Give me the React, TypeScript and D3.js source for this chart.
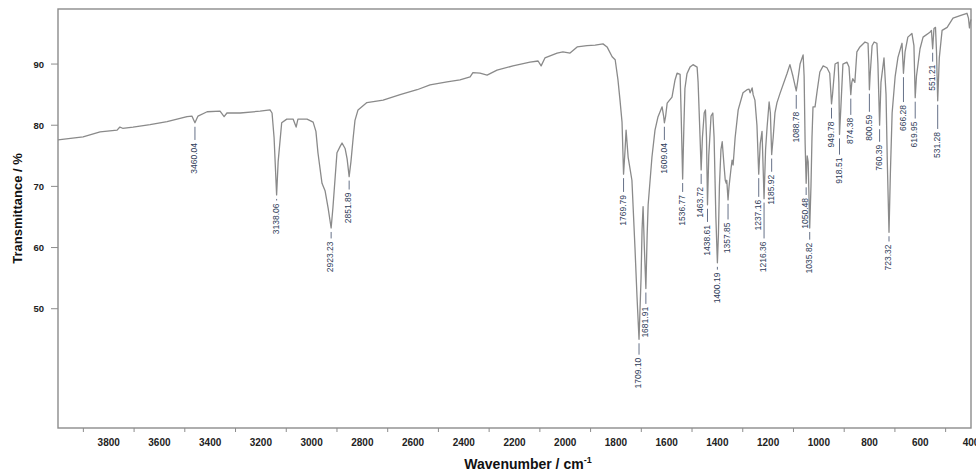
import React from "react";
import * as d3 from "d3";

// Spectrum: wavenumber (cm-1) and transmittance (%)
const wavenumbers: number[] = [
  4000, 3901, 3834, 3767, 3756, 3745, 3704, 3637, 3570, 3491, 3472, 3460, 3448, 3412, 3361, 3345, 3334, 3282, 3203, 3164,
  3156, 3148, 3138, 3132, 3118, 3098, 3073, 3061, 3054, 3018, 2994, 2983, 2975, 2959, 2947, 2935, 2923, 2916, 2908, 2900,
  2888, 2880, 2868, 2860, 2852, 2845, 2836, 2829, 2817, 2782, 2718, 2651, 2584, 2533, 2466, 2415, 2375, 2364, 2336, 2308,
  2269, 2206, 2139, 2107, 2095, 2080, 2032, 2009, 1981, 1953, 1914, 1882, 1851, 1835, 1815, 1803, 1792, 1784, 1776, 1770,
  1764, 1760, 1752, 1737, 1725, 1717, 1709, 1701, 1697, 1693, 1688, 1682, 1677, 1673, 1658, 1646, 1634, 1618, 1612, 1609,
  1604, 1598, 1579, 1567, 1559, 1547, 1543, 1537, 1532, 1528, 1520, 1508, 1496, 1480, 1476, 1470, 1464, 1459, 1452, 1447,
  1443, 1439, 1434, 1425, 1418, 1413, 1406, 1400, 1396, 1392, 1386, 1381, 1373, 1369, 1365, 1363, 1358, 1354, 1346, 1342,
  1338, 1330, 1318, 1299, 1283, 1275, 1271, 1263, 1259, 1252, 1244, 1237, 1231, 1224, 1216, 1210, 1204, 1196, 1191, 1186,
  1180, 1173, 1165, 1153, 1125, 1114, 1102, 1094, 1089, 1084, 1074, 1062, 1058, 1054, 1050, 1046, 1042, 1036, 1031, 1027,
  1023, 1015, 1007, 996, 983, 968, 957, 950, 946, 936, 924, 921, 918.5, 913, 905, 889, 881, 877, 874, 870,
  866, 858, 850, 838, 818, 806, 803, 800.6, 798, 790, 782, 771, 767, 760.4, 755, 743, 735, 730, 723.3, 718,
  711, 699, 688, 672, 666.3, 660, 649, 633, 625, 620, 615, 601, 589, 562, 556, 551.2, 546, 540, 536, 531.3,
  525, 514, 494, 471, 443, 416, 410, 406, 402, 400,
];
const transmittance: number[] = [
  77.6, 78.1, 78.9, 79.2, 79.7, 79.5, 79.7, 80.1, 80.6, 81.4, 81.5, 80.4, 81.5, 82.2, 82.3, 81.4, 82.0, 82.0, 82.3, 82.5,
  82.0, 78, 68.6, 74, 80.4, 81.0, 81.0, 79.7, 81.0, 81.0, 80.5, 79, 75.5, 70.5, 69.3, 66.5, 63.2, 66.5, 71, 75.5,
  76.5, 77.1, 76.2, 74.5, 71.6, 74, 78, 80.8, 82.5, 83.7, 84.1, 85.0, 85.8, 86.6, 87.1, 87.4, 87.9, 88.6, 88.5, 88.2,
  89.0, 89.7, 90.3, 90.5, 89.7, 91.0, 91.8, 92.0, 91.8, 92.8, 93.0, 93.1, 93.3, 92.8, 91.2, 90.7, 87.4, 84.1, 80.5, 72.0,
  76, 79.2, 74.8, 71, 60, 52, 45.0, 55, 63, 66.7, 60, 53.3, 62, 67, 74.8, 79.2, 81.4, 83.0, 81.5, 80.4,
  81.5, 83.6, 84.6, 87.4, 88.5, 88.3, 82, 71.2, 80, 86, 88.4, 89.5, 89.9, 89.5, 87, 80, 72.7, 78, 82, 82.5,
  78, 67, 75, 81.5, 82, 78, 65, 57.5, 62, 70, 76, 77.3, 73, 71, 70.5, 71, 67.8, 70, 73, 74.3,
  73.5, 78, 82.5, 85.3, 85.8, 85.9, 85.3, 86.1, 85, 84.1, 80, 72, 77, 79, 68, 76, 79.7, 83.8, 82, 75.2,
  78, 82, 83.7, 85.2, 88.5, 89.9, 88, 86.5, 85.6, 87, 90, 91.5, 88, 77, 70.5, 75, 74, 63.2, 70, 78,
  83, 83, 85.5, 88.7, 89.7, 89.4, 88.5, 83.5, 85, 90, 90.3, 87, 78.5, 83, 90, 90.3, 89.5, 87, 85, 87,
  87.6, 87, 92, 92.8, 93.6, 93.4, 90, 85.8, 88, 93, 93.6, 93.4, 90, 80, 87, 91, 85, 74, 62.5, 72,
  82, 88, 91.1, 93.4, 88.5, 92, 94.4, 95, 93, 84.5, 88, 92.5, 94.4, 95.2, 95.5, 92.5, 95.8, 96, 92, 84,
  91, 95.5, 96, 97.5, 97.9, 98.3, 97.5, 95.9, 97, 97.3,
];

// Peak annotations
const peakTexts: string[] = [
  "3460.04", "3138.06", "2923.23", "2851.89", "1769.79", "1709.10", "1681.91", "1609.04", "1536.77", "1463.72",
  "1438.61", "1400.19", "1357.85", "1237.16", "1216.36", "1185.92", "1088.78", "1050.48", "1035.82", "949.78",
  "918.51", "874.38", "800.59", "760.39", "723.32", "666.28", "619.95", "551.21", "531.28",
];
const peakWn: number[] = [
  3460, 3138, 2923, 2852, 1770, 1709, 1682, 1609, 1537, 1464,
  1439, 1400, 1358, 1237, 1216, 1186, 1089, 1050, 1036, 950,
  918.5, 874, 800.6, 760.4, 723.3, 666.3, 620, 551.2, 531.3,
];
const peakT: number[] = [
  80.4, 68.6, 63.2, 71.6, 72.0, 45.0, 53.3, 80.4, 71.2, 72.7,
  67, 57.5, 67.8, 72, 68, 75.2, 85.6, 70.5, 63.2, 83.5,
  78.5, 85, 85.8, 80, 62.5, 88.5, 84.5, 92.5, 84,
];
const labelT: number[] = [
  77.1, 67.2, 61.0, 69.0, 68.6, 42.0, 50.3, 77.1, 68.6, 69.9,
  63.7, 55.9, 64.1, 67.8, 61.0, 71.9, 82.2, 68.1, 60.8, 80.6,
  74.7, 81.2, 81.7, 76.8, 60.5, 83.3, 80.6, 89.9, 78.9,
];

const xLabelTicks: number[] = [3800, 3600, 3400, 3200, 3000, 2800, 2600, 2400, 2200, 2000, 1800, 1600, 1400, 1200, 1000, 800, 600, 400];
const xMinorTicks: number[] = [3900, 3700, 3500, 3300, 3100, 2900, 2700, 2500, 2300, 2100, 1900, 1700, 1500, 1300, 1100, 900, 700, 500];
const yTicks: number[] = [50, 60, 70, 80, 90];

const W = 976;
const H = 473;
const left = 58;
const right = 971;
const top = 9;
const bottom = 428;

export default function App() {
  const x = d3.scaleLinear().domain([4000, 400]).range([left, right]);
  const y = d3.scaleLinear().domain([30.5, 99]).range([bottom, top]);
  const pts = wavenumbers.map((w, i) => [w, transmittance[i]] as [number, number]);
  const line = d3
    .line<[number, number]>()
    .x((d) => x(d[0]))
    .y((d) => y(d[1]));

  const font = "'Liberation Sans', Arial, Helvetica, sans-serif";

  return (
    <svg
      width={W}
      height={H}
      viewBox={`0 0 ${W} ${H}`}
      style={{ position: "absolute", left: 0, top: 0, background: "#fff" }}
      fontFamily={font}
    >
      <rect x={0} y={0} width={W} height={H} fill="#fff" />
      {/* frame */}
      <rect x={left} y={top} width={right - left} height={bottom - top} fill="none" stroke="#8c8c8c" strokeWidth={1.4} />
      {/* spectrum */}
      <path d={line(pts) || ""} fill="none" stroke="#8a8a8a" strokeWidth={1.3} strokeLinejoin="round" />
      {/* peak labels */}
      {peakTexts.map((t, i) => {
        const px = x(peakWn[i]);
        const py = y(peakT[i]);
        const ty = y(labelT[i]);
        const y1 = py + 4;
        const y2 = ty - 3;
        return (
          <g key={t}>
            {y2 > y1 && <line x1={px} x2={px} y1={y1} y2={y2} stroke="#55617a" strokeWidth={0.9} />}
            <text
              transform={`translate(${px},${ty}) rotate(-90)`}
              textAnchor="end"
              dominantBaseline="middle"
              fontSize={8.5}
              fill="#2e3b58"
            >
              {t}
            </text>
          </g>
        );
      })}
      {/* x ticks */}
      {xMinorTicks.map((v) => (
        <line key={"m" + v} x1={x(v)} x2={x(v)} y1={bottom} y2={bottom + 4} stroke="#8c8c8c" strokeWidth={1} />
      ))}
      {xLabelTicks.map((v) => (
        <text key={"xl" + v} x={x(v)} y={446} textAnchor="middle" fontSize={10} fontWeight="bold" fill="#222">
          {v}
        </text>
      ))}
      {/* y ticks */}
      {yTicks.map((v) => (
        <g key={"y" + v}>
          <line x1={left - 7} x2={left} y1={y(v)} y2={y(v)} stroke="#8c8c8c" strokeWidth={1} />
          <text x={left - 14} y={y(v)} textAnchor="end" dominantBaseline="central" fontSize={9.5} fontWeight="bold" fill="#222">
            {v}
          </text>
        </g>
      ))}
      {/* axis titles */}
      <text
        transform={`translate(22,${(top + bottom) / 2 - 10}) rotate(-90)`}
        textAnchor="middle"
        fontSize={13}
        fontWeight="bold"
        fill="#111"
      >
        Transmittance / %
      </text>
      <text x={528} y={469} textAnchor="middle" fontSize={14} fontWeight="bold" fill="#111">
        Wavenumber / cm
        <tspan dy={-6} fontSize={9}>
          -1
        </tspan>
      </text>
    </svg>
  );
}
